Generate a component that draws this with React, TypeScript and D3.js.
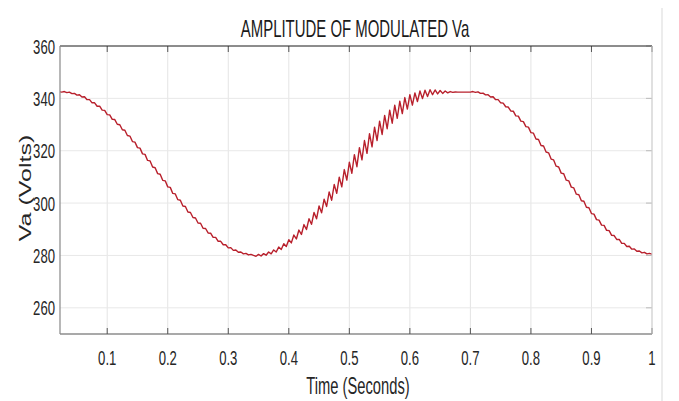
import React from "react";
import * as d3 from "d3";

// Sample step of the recorded signal (seconds) and index of the first sample
const SAMPLE_STEP = 1 / 240;
const FIRST_SAMPLE = 5;

// Va (Volts) samples — falling part (t ≈ 0.021 .. 0.342)
const vaFalling1 = [
  342.5, 342.4, 342.6, 342.2, 342.4, 341.8, 341.9, 341.25, 341.4, 340.5, 340.6,
  339.5, 339.5, 338.3, 338.3, 337.0, 337.0, 335.5, 335.4, 333.8, 333.7, 332.0,
  331.9, 330.1, 329.9, 328.0, 327.8, 325.8, 325.6, 323.5, 323.3, 321.2, 321.0,
  318.8, 318.6, 316.3, 316.1, 313.8, 313.5, 311.25, 311.0, 308.7, 308.5, 306.2,
  306.0, 303.7, 303.5, 301.3, 301.1, 298.9, 298.7, 296.6, 296.4, 294.5, 294.3,
  292.4, 292.3, 290.4, 290.3, 288.6, 288.5, 286.9, 286.9, 285.4, 285.4, 284.1,
  284.1, 282.9, 283.0, 281.95, 282.1, 281.2, 281.3, 280.6, 280.8, 280.2, 280.4,
  280.0,
];

// Rising part with modulation ripple (t ≈ 0.346 .. 0.696)
const vaRising = [
  279.7, 280.4, 279.8, 280.7, 280.1, 281.3, 280.6, 282.1, 281.3, 283.2, 282.3,
  284.5, 283.4, 286.0, 284.8, 287.8, 286.3, 289.7, 288.0, 291.8, 289.9, 294.0,
  291.9, 296.4, 294.0, 298.9, 296.3, 301.5, 298.7, 304.3, 301.1, 307.1, 303.7,
  309.9, 306.2, 312.8, 308.8, 315.6, 311.4, 318.5, 313.9, 321.2, 316.5, 323.9,
  319.0, 326.5, 321.5, 329.0, 323.9, 331.3, 326.2, 333.5, 328.4, 335.5, 330.5,
  337.4, 332.4, 338.9, 334.2, 340.3, 335.9, 341.4, 337.4, 342.1, 338.8, 342.8,
  339.9, 343.1, 340.7, 343.3, 341.4, 343.2, 341.7, 343.0, 341.9, 342.8, 342.1,
  342.6, 342.3, 342.45, 342.4, 342.4, 342.4, 342.4, 342.4,
];

// Falling part (t = 0.700 .. 1.000)
const vaFalling2 = [
  342.4, 342.6, 342.3, 342.5, 341.9, 342.0, 341.35, 341.4, 340.5, 340.6, 339.5,
  339.5, 338.3, 338.2, 336.8, 336.7, 335.2, 335.1, 333.3, 333.2, 331.3, 331.1,
  329.2, 329.0, 326.9, 326.7, 324.5, 324.3, 322.0, 321.8, 319.5, 319.2, 316.8,
  316.5, 314.1, 313.8, 311.45, 311.2, 308.75, 308.5, 306.1, 305.8, 303.4, 303.2,
  300.9, 300.7, 298.4, 298.2, 296.0, 295.8, 293.7, 293.5, 291.6, 291.5, 289.6,
  289.5, 287.7, 287.6, 286.1, 286.1, 284.6, 284.6, 283.4, 283.5, 282.4, 282.5,
  281.6, 281.7, 281.0, 281.2, 280.6, 280.8, 280.5,
];

const xTicks = [0.1, 0.2, 0.3, 0.4, 0.5, 0.6, 0.7, 0.8, 0.9, 1];
const xTickLabels = ["0.1", "0.2", "0.3", "0.4", "0.5", "0.6", "0.7", "0.8", "0.9", "1"];
const yTicks = [260, 280, 300, 320, 340, 360];

const TITLE = "AMPLITUDE OF MODULATED Va";
const X_LABEL = "Time (Seconds)";
const Y_LABEL = "Va (Volts)";

const W = 679;
const H = 401;
const M = { left: 60, right: 652, top: 46, bottom: 334 };
const SX = 0.64; // horizontal squeeze of the text
const FONT = "'Liberation Sans', Arial, Helvetica, sans-serif";

export default function App() {
  const x = d3.scaleLinear().domain([0.022, 1]).range([M.left, M.right]);
  const y = d3.scaleLinear().domain([250, 360]).range([M.bottom, M.top]);

  const values = [...vaFalling1, ...vaRising, ...vaFalling2];
  const data = values.map((v, i) => ({ t: (FIRST_SAMPLE + i) * SAMPLE_STEP, v }));
  const line = d3
    .line<{ t: number; v: number }>()
    .x((d) => x(d.t))
    .y((d) => y(d.v));

  return (
    <svg
      width={W}
      height={H}
      style={{ position: "absolute", left: 0, top: 0, background: "#fff" }}
      fontFamily={FONT}
    >
      <defs>
        <clipPath id="plot-clip">
          <rect x={M.left} y={M.top} width={M.right - M.left} height={M.bottom - M.top} />
        </clipPath>
      </defs>

      {/* grid */}
      {xTicks.map((t) => (
        <line key={"gx" + t} x1={x(t)} x2={x(t)} y1={M.top} y2={M.bottom} stroke="#e4e4e4" strokeWidth={1} />
      ))}
      {yTicks.map((t) => (
        <line key={"gy" + t} x1={M.left} x2={M.right} y1={y(t)} y2={y(t)} stroke="#e8e8e8" strokeWidth={1} />
      ))}

      {/* page edge line at right */}
      <line x1={662} x2={662} y1={8} y2={H} stroke="#ececec" strokeWidth={2} />

      {/* tick marks */}
      {xTicks.map((t) => (
        <g key={"tx" + t}>
          <line x1={x(t)} x2={x(t)} y1={M.bottom} y2={M.bottom - 6} stroke="#555" strokeWidth={1} />
          <line x1={x(t)} x2={x(t)} y1={M.top} y2={M.top + 6} stroke="#555" strokeWidth={1} />
        </g>
      ))}
      {yTicks.map((t) => (
        <line key={"ty" + t} x1={M.right} x2={M.right - 6} y1={y(t)} y2={y(t)} stroke="#bbb" strokeWidth={1} />
      ))}

      {/* data line */}
      <path
        d={line(data) || ""}
        fill="none"
        stroke="#b8202c"
        strokeWidth={1.4}
        strokeLinejoin="round"
        clipPath="url(#plot-clip)"
      />

      {/* axes box */}
      <line x1={M.left} x2={M.right} y1={M.top} y2={M.top} stroke="#262626" strokeWidth={1.2} />
      <line x1={M.left} x2={M.right} y1={M.bottom} y2={M.bottom} stroke="#555" strokeWidth={1.2} />
      <line x1={M.left} x2={M.left} y1={M.top} y2={M.bottom} stroke="#888" strokeWidth={1.2} />
      <line x1={M.right} x2={M.right} y1={M.top} y2={M.bottom} stroke="#cfcfcf" strokeWidth={1} />

      {/* y tick labels */}
      {yTicks.map((t) => (
        <text
          key={"ly" + t}
          transform={`translate(${M.left - 5},${y(t) + 7.5}) scale(${SX},1)`}
          textAnchor="end"
          fontSize={20.5}
          fill="#262626"
        >
          {t}
        </text>
      ))}

      {/* x tick labels */}
      {xTicks.map((t, i) => (
        <text
          key={"lx" + t}
          transform={`translate(${x(t)},${365}) scale(${SX},1)`}
          textAnchor="middle"
          fontSize={20.5}
          fill="#262626"
        >
          {xTickLabels[i]}
        </text>
      ))}

      {/* title */}
      <text
        transform={`translate(355,37) scale(0.65,1)`}
        textAnchor="middle"
        fontSize={23}
        fill="#1a1a1a"
      >
        {TITLE}
      </text>

      {/* x label */}
      <text
        transform={`translate(358,394) scale(${SX},1)`}
        textAnchor="middle"
        fontSize={23}
        fill="#262626"
      >
        {X_LABEL}
      </text>

      {/* y label */}
      <text
        transform={`translate(31,188) scale(0.65,1) rotate(-90)`}
        textAnchor="middle"
        fontSize={25}
        fill="#262626"
      >
        {Y_LABEL}
      </text>
    </svg>
  );
}
